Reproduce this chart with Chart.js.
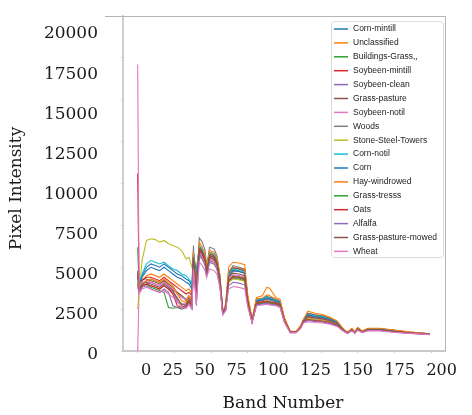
<!DOCTYPE html>
<html>
<head>
<meta charset="utf-8">
<script src="https://cdn.jsdelivr.net/npm/chart.js@4/dist/chart.umd.min.js"></script>
<style>
  html, body { margin: 0; padding: 0; background: #fff; }
  #wrap { width: 472px; height: 415px; }
</style>
</head>
<body>
<div id="wrap"><canvas id="spectra" width="472" height="415"></canvas></div>
<script>
const bands = [0, 1, 3, 6, 9, 12, 15, 18, 21, 24, 27, 30, 33, 35, 37, 38, 40, 42, 44, 46,
  47, 49, 52, 54, 56, 58, 60, 62, 65, 69, 73, 75, 78, 81, 85, 88, 90, 94, 97, 100,
  104, 108, 111, 113, 116, 121, 126, 131, 136, 140, 143, 146, 148, 150, 153, 157, 165, 175, 185, 199];

const classNames = ['Corn-mintill', 'Unclassified', 'Buildings-Grass,,', 'Soybeen-mintill', 'Soybeen-clean',
  'Grass-pasture', 'Soybeen-notil', 'Woods', 'Stone-Steel-Towers', 'Corn-notil', 'Corn',
  'Hay-windrowed', 'Grass-tresss', 'Oats', 'Alfalfa', 'Grass-pasture-mowed', 'Wheat'];

const cornMintill = [4600, 4000, 4500, 5000, 5200, 5100, 5000, 5200, 5000, 4800, 4600, 4500, 4300, 4200, 3900, 5800, 4800, 6200, 6000, 5600,
  4900, 5800, 5700, 5400, 4400, 2350, 2650, 4600, 5000, 4900, 4800, 3200, 1850, 3100, 3150, 3250, 3200, 3100, 3000, 1950,
  1160, 1160, 1450, 1850, 2250, 2150, 2100, 1950, 1750, 1320, 1110, 1320, 1130, 1370, 1190, 1330, 1330, 1230, 1130, 1030];
const unclassified = [4200, 3700, 4200, 4500, 4600, 4500, 4400, 4600, 4400, 4200, 4000, 3800, 3600, 3700, 3400, 5800, 4200, 6300, 6000, 5600,
  4800, 5900, 5800, 5500, 4400, 2300, 2650, 4700, 5000, 4950, 4850, 3200, 1800, 3100, 3150, 3350, 3300, 3100, 3000, 1950,
  1150, 1160, 1450, 1850, 2250, 2150, 2100, 1950, 1750, 1310, 1100, 1310, 1120, 1360, 1180, 1330, 1330, 1230, 1120, 1020];
const buildingsGrass = [4100, 3600, 4000, 4200, 4300, 4200, 4100, 4200, 3900, 3700, 3500, 3300, 3100, 3300, 3100, 5400, 3600, 5900, 5700, 5300,
  4500, 5500, 5400, 5100, 4100, 2250, 2500, 4200, 4500, 4450, 4350, 2900, 1750, 2850, 2900, 2950, 2900, 2850, 2750, 1800,
  1120, 1120, 1380, 1750, 1950, 1880, 1830, 1720, 1560, 1230, 1070, 1240, 1080, 1280, 1130, 1240, 1240, 1150, 1080, 1000];
const soybeenMintill = [4500, 3800, 4200, 4400, 4400, 4300, 4200, 4400, 4200, 4000, 3800, 3600, 3400, 3500, 3300, 5700, 4000, 6100, 5900, 5500,
  4700, 5700, 5600, 5300, 4300, 2300, 2600, 4500, 4800, 4750, 4650, 3050, 1800, 2950, 3000, 3100, 3050, 2950, 2850, 1850,
  1140, 1140, 1420, 1800, 2120, 2030, 1980, 1860, 1660, 1280, 1090, 1280, 1100, 1330, 1160, 1290, 1290, 1190, 1100, 1010];
const soybeenClean = [3900, 3700, 3900, 4000, 4100, 4000, 3900, 4100, 3900, 3600, 2900, 2800, 2700, 3000, 2800, 5300, 3200, 5800, 5600, 5200,
  4500, 5400, 5300, 5000, 4000, 2200, 2450, 4100, 4350, 4300, 4200, 2850, 1720, 2800, 2850, 2900, 2850, 2800, 2700, 1780,
  1110, 1110, 1370, 1750, 1980, 1900, 1850, 1740, 1580, 1240, 1070, 1250, 1080, 1290, 1130, 1250, 1250, 1160, 1080, 1000];
const grassPasture = [4700, 3900, 4300, 4300, 4200, 4100, 4000, 4200, 4000, 3800, 3500, 3300, 3000, 3200, 3000, 5600, 3900, 6200, 6000, 5600,
  4800, 5800, 5700, 5400, 4400, 2350, 2650, 4600, 4950, 4900, 4800, 3150, 1850, 3050, 3100, 3200, 3150, 3050, 2950, 1900,
  1150, 1150, 1440, 1850, 2250, 2150, 2080, 1940, 1740, 1310, 1100, 1310, 1120, 1360, 1180, 1320, 1320, 1220, 1120, 1020];
const soybeenNotil = [0, 3800, 4100, 4200, 4100, 4000, 3900, 4100, 3900, 3700, 3400, 3200, 3100, 3300, 3100, 5500, 3400, 5900, 5700, 5300,
  4600, 5500, 5400, 5100, 4100, 2250, 2550, 4300, 4550, 4500, 4400, 2950, 1760, 2850, 2900, 2950, 2900, 2850, 2750, 1800,
  1120, 1120, 1400, 1780, 2020, 1940, 1890, 1780, 1610, 1250, 1080, 1260, 1090, 1300, 1140, 1260, 1260, 1170, 1090, 1000];
const woods = [4000, 3500, 3900, 4000, 3900, 3800, 3700, 3900, 3700, 3500, 3200, 2700, 2600, 2900, 2600, 6300, 2700, 6750, 6500, 6000,
  5000, 6200, 6100, 5700, 4500, 2300, 2600, 4700, 5100, 5000, 4900, 3100, 1800, 3000, 3050, 3100, 3050, 2950, 2850, 1850,
  1130, 1130, 1400, 1780, 2050, 1970, 1920, 1800, 1620, 1260, 1080, 1260, 1090, 1310, 1140, 1270, 1270, 1170, 1090, 1000];
const stoneSteelTowers = [2500, 3500, 5400, 6600, 6700, 6650, 6500, 6600, 6400, 6300, 6200, 6000, 5500, 5600, 5000, 5200, 4300, 5600, 5500, 5200,
  4600, 5300, 5200, 5000, 4200, 2300, 2550, 4100, 4300, 4250, 4150, 2700, 1750, 2850, 2900, 2950, 2900, 2850, 2750, 1800,
  1120, 1120, 1380, 1760, 1950, 1880, 1830, 1730, 1570, 1240, 1070, 1250, 1080, 1290, 1130, 1250, 1250, 1160, 1080, 1000];
const cornNotil = [4300, 3900, 4600, 5200, 5400, 5300, 5200, 5300, 5100, 4900, 4800, 4600, 4500, 4300, 4000, 5900, 4600, 6300, 6100, 5700,
  5000, 5900, 5800, 5500, 4500, 2400, 2700, 4500, 4900, 4800, 4700, 3100, 1850, 3050, 3100, 3200, 3150, 3050, 2950, 1900,
  1150, 1150, 1450, 1850, 2200, 2100, 2050, 1900, 1700, 1300, 1100, 1300, 1120, 1350, 1180, 1320, 1320, 1220, 1120, 1020];
const corn = [4400, 4100, 4400, 4800, 5000, 4900, 4800, 5000, 4800, 4600, 4400, 4300, 4100, 4000, 3700, 5700, 4400, 6100, 5900, 5500,
  4800, 5700, 5600, 5300, 4300, 2300, 2600, 4400, 4800, 4750, 4650, 3100, 1800, 3000, 3050, 3150, 3100, 3000, 2900, 1900,
  1140, 1140, 1420, 1820, 2150, 2050, 2000, 1880, 1680, 1290, 1090, 1290, 1110, 1340, 1170, 1300, 1300, 1200, 1100, 1010];
const hayWindrowed = [3900, 3600, 4000, 4200, 4300, 4200, 4100, 4300, 4100, 3900, 3400, 3000, 2900, 3300, 3000, 5900, 3800, 6500, 6200, 5800,
  5000, 6000, 5900, 5600, 4600, 2400, 2800, 5000, 5300, 5250, 5150, 3400, 1900, 3200, 3300, 3800, 3750, 3200, 3100, 2000,
  1170, 1180, 1500, 1900, 2380, 2250, 2180, 2020, 1800, 1340, 1120, 1350, 1150, 1420, 1200, 1360, 1360, 1250, 1140, 1030];
const grassTresss = [6200, 3700, 3900, 4000, 3800, 3700, 3600, 3500, 2600, 2550, 2600, 2500, 2600, 2900, 2600, 5400, 3300, 6000, 5800, 5400,
  4600, 5600, 5500, 5200, 4200, 2250, 2500, 4200, 4400, 4350, 4250, 2850, 1730, 2800, 2850, 2900, 2850, 2800, 2700, 1780,
  1110, 1110, 1360, 1730, 1850, 1800, 1760, 1670, 1520, 1220, 1060, 1230, 1070, 1270, 1120, 1230, 1230, 1140, 1070, 990];
const oats = [10600, 3600, 3900, 4000, 3900, 3800, 3700, 3900, 3700, 3400, 2700, 2600, 2700, 3000, 2700, 5500, 3500, 6000, 5800, 5400,
  4600, 5600, 5500, 5200, 4200, 2250, 2500, 4200, 4450, 4400, 4300, 2900, 1750, 2850, 2900, 2950, 2900, 2850, 2750, 1800,
  1120, 1120, 1380, 1750, 1880, 1820, 1780, 1690, 1540, 1230, 1070, 1240, 1080, 1280, 1130, 1240, 1240, 1150, 1080, 1000];
const alfalfa = [3800, 3500, 3800, 3900, 3700, 3600, 3500, 3700, 3500, 2700, 2600, 2550, 2600, 2800, 2500, 5200, 2900, 5700, 5500, 5100,
  4500, 5300, 5200, 4900, 4000, 2200, 2450, 3900, 4100, 4050, 3950, 2750, 1700, 2750, 2800, 2850, 2800, 2750, 2650, 1750,
  1100, 1100, 1350, 1720, 1820, 1770, 1730, 1650, 1500, 1210, 1060, 1220, 1070, 1260, 1110, 1220, 1220, 1130, 1060, 990];
const grassPastureMowed = [4800, 3700, 4000, 4100, 4000, 3900, 3800, 4000, 3800, 3600, 3100, 2800, 2800, 3100, 2900, 5600, 3700, 6100, 5900, 5500,
  4700, 5700, 5600, 5300, 4300, 2300, 2600, 4400, 4650, 4600, 4500, 3000, 1780, 2900, 2950, 3000, 2950, 2900, 2800, 1820,
  1130, 1130, 1400, 1780, 2050, 1970, 1920, 1800, 1620, 1260, 1080, 1260, 1090, 1310, 1140, 1270, 1270, 1170, 1090, 1000];
const wheat = [17100, 3400, 3700, 3800, 3700, 3600, 3500, 3600, 3400, 3200, 3000, 2600, 2550, 2800, 2500, 4900, 2800, 5300, 5100, 4800,
  4400, 4900, 4800, 4600, 3800, 2150, 2400, 3700, 3850, 3800, 3700, 2650, 1680, 2700, 2750, 2800, 2750, 2700, 2600, 1720,
  1090, 1090, 1330, 1680, 1750, 1700, 1670, 1600, 1470, 1190, 1050, 1200, 1060, 1240, 1100, 1200, 1200, 1110, 1050, 980];

const classValues = [cornMintill, unclassified, buildingsGrass, soybeenMintill, soybeenClean, grassPasture,
  soybeenNotil, woods, stoneSteelTowers, cornNotil, corn, hayWindrowed, grassTresss, oats, alfalfa,
  grassPastureMowed, wheat];

// matplotlib tab10 cycle
const palette = ['#1f77b4', '#ff7f0e', '#2ca02c', '#d62728', '#9467bd',
  '#8c564b', '#e377c2', '#7f7f7f', '#bcbd22', '#17becf'];

const xTicks = [0, 25, 50, 75, 100, 125, 150, 175, 200];
const yTicks = [0, 2500, 5000, 7500, 10000, 12500, 15000, 17500, 20000];

const serif = '"DejaVu Serif", "Liberation Serif", serif';

// axis labels and legend are drawn by hand to sit where the original puts them
const overlay = {
  id: 'overlay',
  afterDraw(chart) {
    const ctx = chart.ctx, a = chart.chartArea;
    ctx.save();

    // top / right frame
    ctx.strokeStyle = '#b5b5b5';
    ctx.lineWidth = 1;
    ctx.beginPath();
    ctx.moveTo(a.left - 18, a.top + 0.5);
    ctx.lineTo(a.right + 0.5, a.top + 0.5);
    ctx.lineTo(a.right + 0.5, a.bottom);
    ctx.stroke();

    ctx.fillStyle = '#1a1a1a';
    ctx.font = '17px ' + serif;
    ctx.textAlign = 'right';
    ctx.textBaseline = 'middle';
    const yl = yTicks.slice().reverse();
    const top = a.top + 18, step = (a.bottom + 4 - top) / (yl.length - 1);
    yl.forEach((v, i) => ctx.fillText(String(v), a.left - 25, top + i * step));

    ctx.font = '16px ' + serif;
    ctx.textAlign = 'left';
    let x = a.left + 18;
    xTicks.forEach(v => {
      const s = String(v);
      ctx.fillText(s, x, a.bottom + 20);
      x += ctx.measureText(s).width + 11.5;
    });

    ctx.font = '17px ' + serif;
    ctx.textAlign = 'center';
    ctx.fillText('Band Number', a.left + 160, a.bottom + 53);
    ctx.translate(17, (a.top + a.bottom) / 2 + 5);
    ctx.rotate(-Math.PI / 2);
    ctx.fillText('Pixel Intensity', 0, 0);
    ctx.restore();

    // legend box
    ctx.save();
    const lx = a.left + 208, ly = a.top + 5, lw = 112, lh = 236;
    ctx.fillStyle = 'rgba(255,255,255,0.85)';
    ctx.strokeStyle = '#dcdcdc';
    ctx.lineWidth = 1;
    ctx.beginPath();
    ctx.roundRect(lx + 0.5, ly + 0.5, lw, lh, 3);
    ctx.fill();
    ctx.stroke();
    ctx.font = '8.5px "Liberation Sans", Arial, sans-serif';
    ctx.textAlign = 'left';
    ctx.textBaseline = 'middle';
    chart.data.datasets.forEach((ds, i) => {
      const ry = ly + 8 + i * 13.9;
      ctx.strokeStyle = ds.borderColor;
      ctx.lineWidth = 1.5;
      ctx.beginPath();
      ctx.moveTo(lx + 3, ry);
      ctx.lineTo(lx + 17, ry);
      ctx.stroke();
      ctx.fillStyle = '#222';
      ctx.fillText(ds.label, lx + 22, ry);
    });
    ctx.restore();
  }
};

new Chart(document.getElementById('spectra'), {
  type: 'line',
  data: {
    datasets: classNames.map((name, i) => ({
      label: name,
      data: bands.map((b, j) => ({ x: b, y: classValues[i][j] })),
      borderColor: palette[i % palette.length],
      borderWidth: 1.1,
      pointRadius: 0,
      tension: 0,
      order: classNames.length - i
    }))
  },
  options: {
    responsive: false,
    animation: false,
    layout: { padding: { left: 121, right: 27, top: 16, bottom: 62 } },
    plugins: { legend: { display: false }, tooltip: { enabled: false } },
    scales: {
      x: {
        type: 'linear',
        min: -10,
        max: 209.5,
        afterBuildTicks: s => { s.ticks = xTicks.map(v => ({ value: v })); },
        ticks: { display: false },
        grid: { drawOnChartArea: false, drawTicks: true, tickLength: 2, color: '#c8c8c8' },
        border: { color: '#c8c8c8', width: 2 }
      },
      y: {
        min: 0,
        max: 20000,
        afterBuildTicks: s => { s.ticks = yTicks.map(v => ({ value: v })); },
        ticks: { display: false },
        grid: { drawOnChartArea: false, drawTicks: true, tickLength: 2, color: '#c8c8c8' },
        border: { color: '#cfcfcf', width: 2 }
      }
    }
  },
  plugins: [overlay]
});
</script>
</body>
</html>
